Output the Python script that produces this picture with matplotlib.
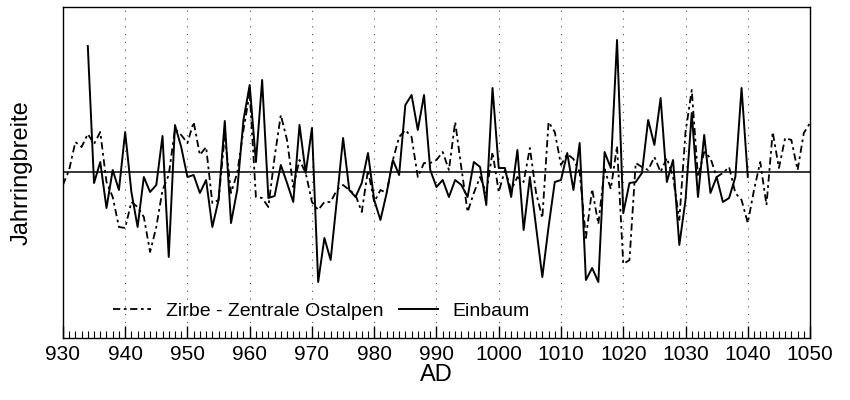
import numpy as np
import matplotlib
matplotlib.use("Agg")
import matplotlib.pyplot as plt
from matplotlib.ticker import MultipleLocator

plt.rcParams['font.family'] = ['Liberation Sans', 'DejaVu Sans']

# Tree-ring width indices (arbitrary units, 0 = mean)
zirbe_years = list(range(930, 1051))
zirbe = [
    -13, 2, 30, 25, 38, 28, 40, -10, -25, -55,          # 930-939
    -56, -30, -35, -45, -80, -55, -18, -3, 43, 37,      # 940-949
    29, 50, 17, 25, -31, -28, 37, -21, -1, 42,          # 950-959
    79, -25, -26, -35, 15, 57, 32, -15, 12, -1,         # 960-969
    -30, -38, -30, -30, -18, -13, -18, -23, -40, 2,     # 970-979
    -30, -18, -21, 12, 35, 42, 35, -5, 9, 9,            # 980-989
    12, 20, 2, 50, 4, -40, -21, -5, -21, 20,            # 990-999
    -20, 2, -18, -5, -10, 24, -21, -46, 50, 40,         # 1000-1009
    7, 18, 13, 0, -66, -17, -52, 3, -17, 26,            # 1010-1019
    -92, -88, 9, 5, 2, 15, 0, 14, -5, -48,              # 1020-1029
    40, 82, -5, 20, 14, -5, -1, 5, -21, -28,            # 1030-1039
    -51, -18, 10, -33, 40, 4, 34, 32, 2, 39,            # 1040-1049
    49,                                                 # 1050
]

einbaum_years = list(range(934, 1041))
einbaum = [
    126, -11, 10, -36, 2, -18,                          # 934-939
    40, -20, -55, -5, -20, -13, 36, -85, 47, 25,        # 940-949
    -5, -3, -21, -8, -55, -28, 51, -51, -18, 52,        # 950-959
    87, 10, 92, -26, -24, 7, -11, -30, 47, -1,          # 960-969
    44, -110, -66, -88, -28, 34, -18, -25, -11, 19,     # 970-979
    -28, -48, -21, 12, -3, 67, 77, 42, 77, 2,           # 980-989
    -15, -8, -25, -8, -13, -25, 10, 5, -33, 84,         # 990-999
    4, 4, -25, 22, -58, -5, -55, -105, -55, -10,        # 1000-1009
    -8, 19, -18, 29, -108, -96, -110, 20, 4, 132,       # 1010-1019
    -41, -11, -10, -1, 52, 27, 74, -10, 12, -73,        # 1020-1029
    -28, 59, -25, 37, -21, -5, -30, -26, -5, 84,        # 1030-1039
    -5,                                                 # 1040
]

fig = plt.figure(figsize=(8.5, 4), dpi=100)
ax = fig.add_axes([0.074, 0.155, 0.879, 0.8275])

# dotted decade lines
for yr in range(940, 1050, 10):
    ax.axvline(yr, color='0.3', lw=0.8, ls=(0, (1, 6)), zorder=1)

ax.axhline(0, color='black', lw=1.1, zorder=2)

ax.plot(zirbe_years, zirbe, color='black', lw=1.3,
        ls=(0, (4, 2, 1.5, 2)), label='Zirbe - Zentrale Ostalpen', zorder=3)
ax.plot(einbaum_years, einbaum, color='black', lw=1.4,
        label='Einbaum', zorder=4)

ax.set_xlim(930, 1050)
ax.set_ylim(-166, 165)
ax.xaxis.set_major_locator(MultipleLocator(10))
ax.xaxis.set_minor_locator(MultipleLocator(1))
ax.tick_params(axis='x', which='major', direction='in', length=9, width=1,
               labelsize=15, pad=5)
ax.tick_params(axis='x', which='minor', direction='in', length=5, width=0.8)
ax.set_yticks([])
for sp in ax.spines.values():
    sp.set_linewidth(1.0)

ax.set_xlabel('AD', fontsize=17, labelpad=0)
ax.set_ylabel('Jahrringbreite', fontsize=17, labelpad=22)

ax.legend(loc='center left', bbox_to_anchor=(0.043, 0.082), ncol=2, frameon=False,
          fontsize=14, handlelength=2.0, columnspacing=0.8, handletextpad=0.75)

fig.savefig('out.png', dpi=100)
